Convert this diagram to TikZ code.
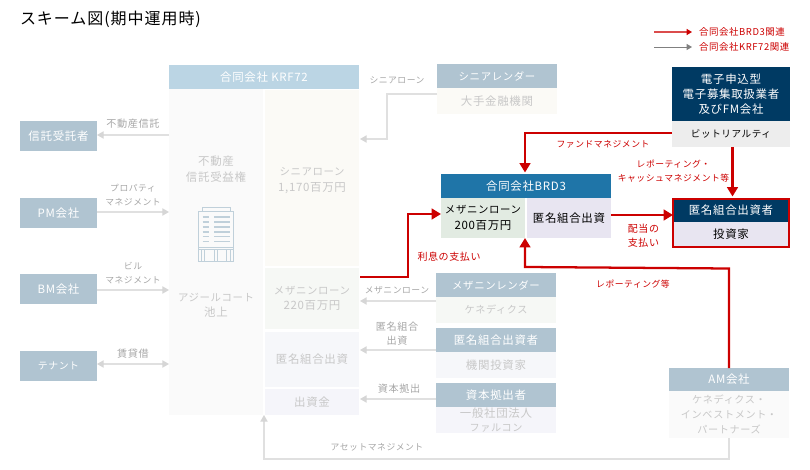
\documentclass[tikz,border=0pt]{standalone}
\usepackage{fontspec}
\setmainfont[LetterSpace=6]{Noto Sans CJK JP}
\usetikzlibrary{arrows.meta}
\definecolor{headblue}{HTML}{BBD5E4}
\definecolor{headgrey}{HTML}{B0C4D1}
\definecolor{navy}{HTML}{003A63}
\definecolor{brdblue}{HTML}{1F75A8}
\definecolor{redline}{HTML}{CC0000}
\definecolor{fadetext}{HTML}{C8C8C8}
\definecolor{fadeline}{HTML}{E0E0E0}
\definecolor{fadetip}{HTML}{D6D6D6}
\definecolor{cream}{HTML}{FBFAF6}
\definecolor{palegreen}{HTML}{F6F8F5}
\definecolor{paleblue}{HTML}{F6F7FA}
\definecolor{palelilac}{HTML}{F5F5FA}
\definecolor{palegrey}{HTML}{FAFAFA}
\definecolor{midgreen}{HTML}{E2EBE2}
\definecolor{midlilac}{HTML}{E8E5F1}
\newcommand{\kana}{\fontsize{7.8}{11.5}\selectfont}
\begin{document}
\begin{tikzpicture}[x=0.75pt, y=-0.75pt, inner sep=0pt, outer sep=0pt, font=\fontsize{8.6}{11.5}\selectfont]
	\tikzstyle{lenderhead} = [fill=headgrey, text=white, align=center, minimum width=90pt, minimum height=18pt]
	\tikzstyle{sidebox} = [fill=headgrey, text=white, align=center, minimum width=57.75pt, minimum height=22.5pt]
	\tikzstyle{bodyfade} = [text=fadetext, align=center, minimum width=90pt, minimum height=19.5pt]
	\tikzstyle{cell} = [text=fadetext, align=center, minimum width=70.5pt]
	\tikzstyle{flow} = [text=black!35, align=center, font=\fontsize{6.6}{10.5}\selectfont]
	\tikzstyle{flowk} = [text=black!35, align=center, font=\fontsize{7.6}{10.5}\selectfont]
	\tikzstyle{redflow} = [text=redline, align=center, font=\fontsize{6.6}{10.5}\selectfont]
	\tikzstyle{redflowk} = [text=redline, align=center, font=\fontsize{7.5}{10.5}\selectfont]
	\tikzstyle{fadearrow} = [draw=fadeline, line width=0.9pt, -{Triangle[length=5pt,width=5.5pt,color=fadetip]}]
	\tikzstyle{redarrow} = [draw=redline, line width=1.7pt, -{Triangle[length=7pt,width=8pt]}]

	\useasboundingbox (0,0) rectangle (810,470);
	\node[anchor=west, font=\fontsize{12}{14}\selectfont] (title) at (20,19) {スキーム図(期中運用時)};

	% legend
	\coordinate (lega) at (654,32);
	\coordinate (legb) at (692,32);
	\coordinate (legc) at (654,47);
	\coordinate (legd) at (692,47);
	\draw[draw=redline!70, line width=1pt, -{Triangle[length=4pt,width=4.5pt,color=redline]}] (lega) -- (legb);
	\draw[draw=black!50, line width=0.7pt, -{Triangle[length=4pt,width=4.5pt]}] (legc) -- (legd);
	\node[anchor=west, text=redline, font=\fontsize{7.1}{8}\selectfont] (legtxta) at (699,32) {合同会社BRD3関連};
	\node[anchor=west, text=redline, font=\fontsize{7.1}{8}\selectfont] (legtxtb) at (699,47) {合同会社KRF72関連};

	% KRF72
	\node[fill=headblue, text=white, minimum width=142.5pt, minimum height=18pt] (krf) at (264,77) {合同会社 KRF72};
	\node[fill=palegrey, minimum width=70.5pt, minimum height=244.5pt] (asset) at (216,252) {};
	\node[cell, fill=cream, minimum height=132pt] (senior) at (312,178) {};
	\node[cell] (seniortxt) at (312,180.5) {{\kana シニアローン}\\1,170百万円};
	\node[cell, fill=palegreen, minimum height=45.75pt] (mezz) at (312,298.5) {{\kana メザニンローン}\\220百万円};
	\node[cell, fill=paleblue, minimum height=41.25pt] (equity) at (312,359.5) {匿名組合出資};
	\node[cell, fill=palelilac, minimum height=19.5pt] (capital) at (312,402) {出資金};
	\node[cell] (trust) at (216,169) {不動産\\信託受益権};
	\node[cell] (ikegami) at (216,305) {{\kana アジールコート}\\池上};

	% building
	\begin{scope}[headgrey!80, line width=0.6pt]
		\draw (202,207) rectangle (230,211);
		\draw (198.5,211) rectangle (233.5,261);
		\draw (198.5,247) -- (233.5,247) (198.5,249.5) -- (233.5,249.5);
		\draw (201,249.5) -- (201,261) (204,249.5) -- (204,261) (214,249.5) -- (214,261);
		\draw (217,249.5) -- (217,261) (226.5,249.5) -- (226.5,261) (230,249.5) -- (230,261);
		\foreach \yy in {217,222,227,232,236.5,241.5} {
			\draw[line width=1pt] (202.5,\yy) -- (208.5,\yy);
			\draw[line width=1pt] (214,\yy) -- (230,\yy);
		}
	\end{scope}

	% left boxes
	\node[sidebox] (trustee) at (58.5,136.5) {信託受託者};
	\node[sidebox] (pm) at (58.5,213) {PM会社};
	\node[sidebox] (bm) at (58.5,289) {BM会社};
	\node[sidebox, font=\fontsize{7.4}{11}\selectfont] (tenant) at (58.5,365.5) {テナント};

	\coordinate (atrust) at (169,135);
	\coordinate (atrustb) at (97,135);
	\coordinate (apm) at (97,212);
	\coordinate (apmb) at (169,212);
	\coordinate (abm) at (97,290);
	\coordinate (abmb) at (169,290);
	\coordinate (aten) at (97,364);
	\coordinate (atenb) at (169,364);
	\draw[fadearrow] (atrust) -- (atrustb);
	\draw[fadearrow] (apm) -- (apmb);
	\draw[fadearrow] (abm) -- (abmb);
	\draw[fadearrow, {Triangle[length=5pt,width=5.5pt,color=fadetip]}-{Triangle[length=5pt,width=5.5pt,color=fadetip]}] (aten) -- (atenb);
	\node[flowk] (ltrust) at (133,124) {不動産信託};
	\node[flow] (lpm) at (133,195) {プロパティ\\マネジメント};
	\node[flow] (lbm) at (133,273.5) {ビル\\マネジメント};
	\node[flowk] (lten) at (133,354) {賃貸借};

	% lenders
	\node[lenderhead, font=\kana] (snhead) at (497,76) {シニアレンダー};
	\node[bodyfade, fill=cream] (snbody) at (497,101) {大手金融機関};
	\node[lenderhead, font=\kana] (mzhead) at (496,285) {メザニンレンダー};
	\node[bodyfade, fill=palegreen, font=\fontsize{7.6}{11}\selectfont] (mzbody) at (496,310) {ケネディクス};
	\node[lenderhead] (eqhead) at (496,340) {匿名組合出資者};
	\node[bodyfade, fill=paleblue] (eqbody) at (496,365) {機関投資家};
	\node[lenderhead] (cphead) at (496,395) {資本拠出者};
	\node[bodyfade, fill=palelilac, font=\fontsize{8.6}{10.8}\selectfont] (cpbody) at (496,420) {一般社団法人\\{\fontsize{7.6}{10.8}\selectfont ファルコン}};

	\coordinate (sna) at (437,94);
	\coordinate (snb) at (360,139);
	\draw[fadearrow] (sna) -- (387,94) -- (387,139) -- (snb);
	\coordinate (mza) at (436,301);
	\coordinate (mzb) at (360,301);
	\draw[fadearrow] (mza) -- (mzb);
	\coordinate (eqa) at (436,350);
	\coordinate (eqb) at (360,350);
	\draw[fadearrow] (eqa) -- (eqb);
	\coordinate (cpa) at (436,399);
	\coordinate (cpb) at (360,399);
	\draw[fadearrow] (cpa) -- (cpb);
	\node[flow] (lsn) at (397,80) {シニアローン};
	\node[flow] (lmz) at (397,290) {メザニンローン};
	\node[flowk] (leq) at (397,334) {匿名組合\\出資};
	\node[flowk] (lcp) at (399,389) {資本拠出};

	% AM
	\node[lenderhead, minimum height=17.25pt] (amhead) at (729,379.5) {AM会社};
	\node[bodyfade, fill=palegrey, minimum height=35.25pt, font=\fontsize{7.6}{11.2}\selectfont] (ambody) at (729,414.5) {ケネディクス・\\インベストメント・\\パートナーズ};
	\coordinate (ama) at (729,438);
	\coordinate (amb) at (264,415);
	\draw[fadearrow] (ama) -- (729,459) -- (264,459) -- (amb);
	\node[flow] (lam) at (377,447) {アセットマネジメント};

	% BRD3
	\node[fill=brdblue, text=white, minimum width=127.5pt, minimum height=18pt] (brd) at (526,186) {合同会社BRD3};
	\node[fill=midgreen, align=center, minimum width=63pt, minimum height=30pt] (brdmz) at (483,218) {{\kana メザニンローン}\\200百万円};
	\node[fill=midlilac, minimum width=63pt, minimum height=30pt] (brdeq) at (569,218) {匿名組合出資};

	% bitrealty
	\node[fill=navy, text=white, align=center, minimum width=88.5pt, minimum height=40.5pt] (bit) at (731,94) {電子申込型\\電子募集取扱業者\\及びFM会社};
	\node[fill=black!7, minimum width=88.5pt, minimum height=19.5pt, font=\fontsize{7.2}{11}\selectfont] (bitbody) at (731,134) {ビットリアルティ};

	% investor
	\node[fill=navy, text=white, minimum width=87pt, minimum height=17.25pt] (invhead) at (731,210.5) {匿名組合出資者};
	\node[fill=midlilac, minimum width=87pt, minimum height=18.75pt] (invbody) at (731,234.5) {投資家};
	\draw[draw=redline, line width=1.7pt] (invhead.north west) rectangle (invbody.south east);

	% red flows
	\coordinate (fma) at (672,133);
	\coordinate (fmb) at (525,172.5);
	\draw[redarrow] (fma) -- (525,133) -- (fmb);
	\coordinate (rpa) at (732.5,147);
	\coordinate (rpb) at (732.5,196.5);
	\draw[redarrow] (rpa) -- (rpb);
	\coordinate (dva) at (611,215);
	\coordinate (dvb) at (673,215);
	\draw[redarrow] (dva) -- (dvb);
	\coordinate (ina) at (360,277);
	\coordinate (inb) at (441,214);
	\draw[redarrow] (ina) -- (408,277) -- (408,214) -- (inb);
	\coordinate (ama2) at (729,368);
	\coordinate (amb2) at (525,238);
	\draw[redarrow] (ama2) -- (729,268.5) -- (525,267) -- (amb2);

	\node[redflow] (lfm) at (603,144) {ファンドマネジメント};
	\node[redflow] (lrp) at (673.5,171) {レポーティング・\\キャッシュマネジメント等};
	\node[redflowk] (ldv) at (643.5,236) {配当の\\支払い};
	\node[redflowk] (lin) at (449,257) {利息の支払い};
	\node[redflow] (lam2) at (633,284) {レポーティング等};
\end{tikzpicture}
\end{document}
